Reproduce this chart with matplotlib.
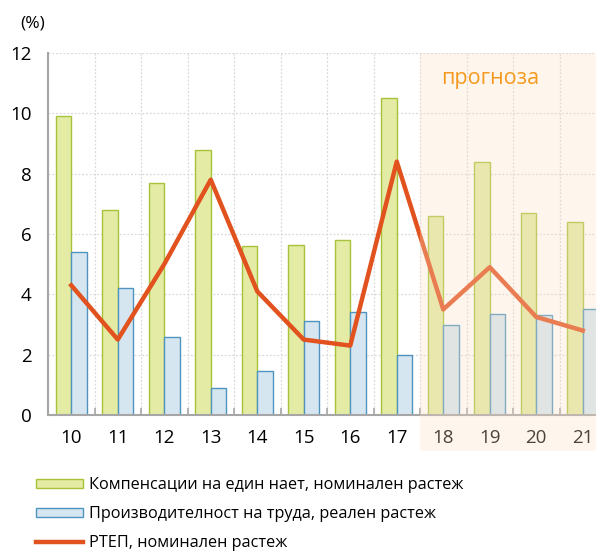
import matplotlib
matplotlib.use('Agg')
import matplotlib.pyplot as plt
import numpy as np
from matplotlib.patches import Rectangle

years = ['10', '11', '12', '13', '14', '15', '16', '17', '18', '19', '20', '21']
compensation = [9.9, 6.8, 7.7, 8.8, 5.6, 5.65, 5.8, 10.5, 6.6, 8.4, 6.7, 6.4]
productivity = [5.4, 4.2, 2.6, 0.9, 1.45, 3.1, 3.4, 2.0, 3.0, 3.35, 3.3, 3.5]
ulc = [4.3, 2.5, 5.0, 7.8, 4.1, 2.5, 2.3, 8.4, 3.5, 4.9, 3.25, 2.8]
forecast_start = '18'
labels = ['Компенсации на един нает, номинален растеж',
          'Производителност на труда, реален растеж',
          'РТЕП, номинален растеж']

plt.rcParams['font.family'] = ['Open Sans', 'DejaVu Sans']

fig = plt.figure(figsize=(5.96, 5.54), dpi=100)
ax = fig.add_axes([48/596, 139/554, 558/596, 362/554])
x = np.arange(len(years))
w = 0.335
b1 = ax.bar(x - w/2, compensation, w, color='#E3EBA4', edgecolor='#A8C23A', linewidth=1.0,
            label=labels[0], zorder=2)
b2 = ax.bar(x + w/2, productivity, w, color='#D5E6F0', edgecolor='#4E94BF', linewidth=1.0,
            label=labels[1], zorder=2)
l1, = ax.plot(x, ulc, color='#E1521F', lw=3.2, label=labels[2], zorder=3)

ax.set_xlim(-0.5, 11.5)
ax.set_ylim(0, 12)
ax.set_yticks(range(0, 13, 2))
ax.set_xticks(x)
ax.set_xticklabels(years)
ax.set_xticks(np.arange(-0.5, 12, 1), minor=True)
ax.xaxis.grid(True, which='minor', color='#D9D9D9', linestyle=(0, (1.5, 1.5)), linewidth=0.9, zorder=0)
ax.yaxis.grid(True, which='major', color='#D9D9D9', linestyle=(0, (1.5, 1.5)), linewidth=0.9, zorder=0)
ax.xaxis.grid(False, which='major')
ax.set_axisbelow(True)
ax.tick_params(axis='x', which='major', length=0, pad=10, labelsize=13.5)
ax.tick_params(axis='x', which='minor', length=5, direction='in', color='#A6A6A6', width=1.2)
ax.tick_params(axis='y', length=0, pad=12, labelsize=13.5)
for s in ['top', 'right']:
    ax.spines[s].set_visible(False)
for s in ['left', 'bottom']:
    ax.spines[s].set_color('#A6A6A6')
    ax.spines[s].set_linewidth(1.5)

fs = years.index(forecast_start) - 0.5
ax.add_patch(Rectangle((fs, -1.18), 11.5 - fs + 1, 13.18, transform=ax.transData,
                       facecolor='#FCE1C6', alpha=0.3, linewidth=0, zorder=10, clip_on=False))
ax.text(fs + 1.5, 11.15, 'прогноза', color='#F59A1E', fontsize=15.5,
        ha='center', va='center', zorder=11)

fig.text(20/596, 1 - 23/554, '(%)', fontsize=12.5, ha='left', va='center')

fig.legend(handles=[b1, b2, l1], labels=labels, loc='upper left',
           bbox_to_anchor=(36/596, 1 - 477/554), frameon=False,
           fontsize=11.7, handlelength=2.9, handleheight=0.45, handletextpad=0.35,
           labelspacing=0.8, borderpad=0, borderaxespad=0)

fig.savefig('out.png', dpi=100)
